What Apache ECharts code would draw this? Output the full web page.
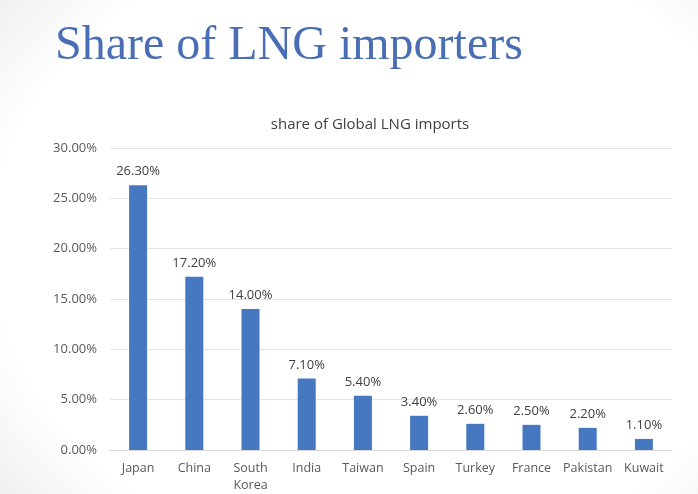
<!DOCTYPE html>
<html>
<head>
<meta charset="utf-8">
<script src="https://cdn.jsdelivr.net/npm/echarts@6/dist/echarts.min.js"></script>
<style>
  html, body { margin: 0; padding: 0; }
  body {
    width: 698px; height: 494px; overflow: hidden;
    background: radial-gradient(ellipse 78% 88% at 55% 50%, #ffffff 72%, #e8e8e8 100%);
  }
  #chart { width: 698px; height: 494px; }
</style>
</head>
<body>
<div id="chart"></div>
<script>
// Share of global LNG imports by country (percent)
const countries = ['Japan', 'China', 'South Korea', 'India', 'Taiwan', 'Spain', 'Turkey', 'France', 'Pakistan', 'Kuwait'];
const shares = [26.3, 17.2, 14.0, 7.1, 5.4, 3.4, 2.6, 2.5, 2.2, 1.1];

const chart = echarts.init(document.getElementById('chart'));
chart.setOption({
  backgroundColor: 'transparent',
  title: [
    {
      text: 'Share of LNG importers',
      left: 50, top: 17,
      textStyle: { fontFamily: 'Liberation Serif', fontWeight: 'normal', fontSize: 48, color: '#4a6eb4' }
    },
    {
      text: 'share of Global LNG imports',
      left: 365, top: 112,
      textAlign: 'center',
      textStyle: { fontFamily: 'Open Sans', fontWeight: 'normal', fontSize: 15, color: '#404040' }
    }
  ],
  grid: { left: 110, right: 26, top: 148, bottom: 42 },
  xAxis: {
    type: 'category',
    data: countries,
    axisTick: { show: false },
    axisLine: { lineStyle: { color: '#d9d9d9' } },
    axisLabel: {
      color: '#595959', fontFamily: 'Open Sans', fontSize: 12.5, margin: 10, lineHeight: 17,
      interval: 0,
      formatter: v => v.replace(' ', '\n')
    }
  },
  yAxis: {
    type: 'value',
    min: 0, max: 30, interval: 5,
    axisLine: { show: false },
    axisTick: { show: false },
    splitLine: { lineStyle: { color: '#e3e3e3' } },
    axisLabel: {
      color: '#595959', fontFamily: 'Open Sans', fontSize: 13, margin: 13,
      formatter: v => v.toFixed(2) + '%'
    }
  },
  series: [{
    type: 'bar',
    data: shares,
    barWidth: 18,
    itemStyle: { color: '#4677c1' },
    label: {
      show: true, position: 'top', distance: 7,
      color: '#404040', fontFamily: 'Open Sans', fontSize: 13,
      formatter: p => p.value.toFixed(2) + '%'
    }
  }]
});
</script>
</body>
</html>
